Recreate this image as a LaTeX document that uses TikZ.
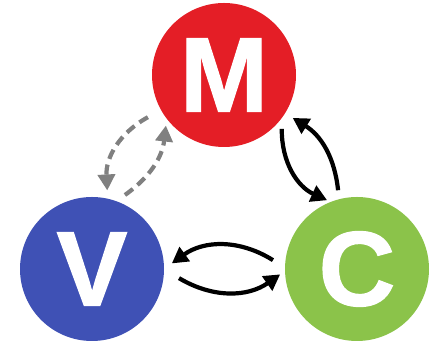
\documentclass[tikz,border=0pt]{standalone}
\usepackage{fontspec}
\setmainfont{Liberation Sans}[BoldFeatures={FakeBold=1.2}]
\usetikzlibrary{arrows.meta}
\definecolor{mred}{HTML}{E41E26}
\definecolor{vblue}{HTML}{3F51B5}
\definecolor{cgreen}{HTML}{8BC34A}
\definecolor{linkgray}{HTML}{808080}
\begin{document}
\begin{tikzpicture}[x=1pt,y=1pt,
  letter/.style={circle, minimum size=144pt, inner sep=0pt, text=white,
    font=\fontsize{106}{106}\selectfont\bfseries},
  link/.style={line width=4.2pt, -{Triangle[length=16pt,width=17pt]}},
  weak/.style={link, draw=linkgray, dash pattern=on 10pt off 6pt}]
\useasboundingbox (0,0) rectangle (437,344);

\node[letter, fill=mred]   (M) at (224,269) {M};
\node[letter, fill=vblue]  (V) at (92,75)   {V};
\node[letter, fill=cgreen] (C) at (357,75)  {C};

% model <-> view (dashed)
\draw[weak] ([shift={(209:87)}]M.center) to[bend right=32] ([shift={(79:80)}]V.center);
\draw[weak] ([shift={(66:81)}]V.center) to[bend right=24] ([shift={(221:77)}]M.center);

% model <-> controller
\draw[link] ([shift={(-43:79)}]M.center) to[bend right=33] ([shift={(113.5:75)}]C.center);
\draw[link] ([shift={(103.5:81)}]C.center) to[bend right=26] ([shift={(-32:81)}]M.center);

% controller <-> view
\draw[link] ([shift={(174:84.5)}]C.center) to[bend right=34] ([shift={(4:80)}]V.center);
\draw[link] ([shift={(-6:87.5)}]V.center) to[bend right=33] ([shift={(184:77)}]C.center);
\end{tikzpicture}
\end{document}
